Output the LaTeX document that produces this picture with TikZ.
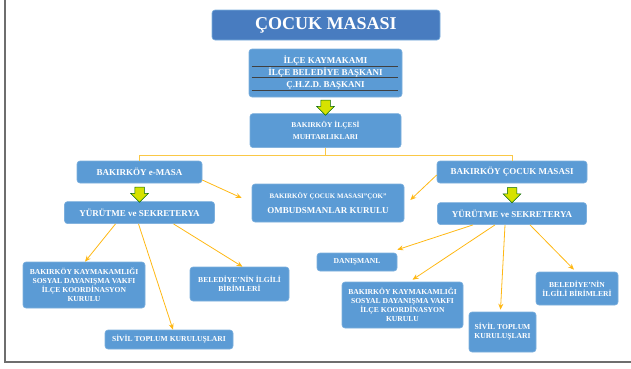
\documentclass[tikz,border=0pt]{standalone}
\usepackage{fontspec}
\setmainfont{Liberation Serif}
\usetikzlibrary{positioning,calc,arrows.meta,shapes.arrows}
\definecolor{boxblue}{RGB}{91,155,213}
\definecolor{titleblue}{RGB}{72,124,192}
\definecolor{linkorange}{RGB}{255,184,20}
\definecolor{hubyellow}{RGB}{250,200,70}
\definecolor{arrowyellow}{RGB}{214,226,0}
\definecolor{framegray}{RGB}{110,110,110}

\begin{document}
\begin{tikzpicture}[x=1pt, y=-1pt,
    box/.style={rectangle, rounded corners=3pt, fill=boxblue, draw=boxblue!80!white,
                line width=0.6pt, text=white, align=center, inner sep=1pt,
                font=\bfseries\fontsize{9}{11}\selectfont},
    smallbox/.style={box, font=\bfseries\fontsize{7.6}{9}\selectfont},
    arr/.style={-{Stealth[length=6pt,width=5pt]}, linkorange, line width=0.8pt},
    hub/.style={hubyellow, line width=0.8pt},
    rowline/.style={draw=black!75, line width=0.7pt},
    dnarrow/.style={single arrow, shape border rotate=270, fill=arrowyellow,
                    draw=black!60!green, line width=0.5pt, minimum height=15pt,
                    inner sep=4.5pt, single arrow head extend=4pt},
  ]
    \useasboundingbox (0,0) rectangle (631,368);
    \draw[framegray, line width=1.2pt] (5,0) -- (5,362) -- (631,362);

    % Top
    \node[box, fill=titleblue, minimum width=228pt, minimum height=30pt,
          font=\bfseries\fontsize{18}{20}\selectfont] (title) at (326,25) {ÇOCUK MASASI};
    \node[box, minimum width=153pt, minimum height=48pt,
          font=\bfseries\fontsize{9}{12}\selectfont] (chiefs) at (325.5,73)
          {İLÇE KAYMAKAMI\\İLÇE BELEDİYE BAŞKANI\\Ç.H.Z.D. BAŞKANI};
    \foreach \dy in {18,29,42}
      \draw[rowline] ([xshift=3pt,yshift=-\dy pt]chiefs.north west) -- ([xshift=-4pt,yshift=-\dy pt]chiefs.north east);
    \node[box, below=16pt of chiefs, minimum width=151pt, minimum height=34pt,
          font=\bfseries\fontsize{7.4}{12}\selectfont] (muhtar) {BAKIRKÖY İLÇESİ\\MUHTARLIKLARI};

    % Left column
    \node[box, minimum width=125pt, minimum height=22pt] (emasa) at (139.5,172) {BAKIRKÖY e-MASA};
    \node[box, below=18pt of emasa, minimum width=150pt, minimum height=22pt] (yurutmeL) {YÜRÜTME ve SEKRETERYA};

    % Right column
    \node[box, minimum width=150pt, minimum height=22pt] (cmasa) at (512,172) {BAKIRKÖY ÇOCUK MASASI};
    \node[box, below=19pt of cmasa, minimum width=149pt, minimum height=22pt] (yurutmeR) {YÜRÜTME ve SEKRETERYA};

    % Middle
    \node[box, minimum width=152pt, minimum height=38pt,
          font=\bfseries\fontsize{9}{15}\selectfont] (ombuds) at (328,203)
          {{\fontsize{6.9}{8}\selectfont BAKIRKÖY ÇOCUK MASASI"ÇOK"}\\OMBUDSMANLAR KURULU};

    % Lower boxes
    \node[smallbox, minimum width=122pt, minimum height=46pt] (vakifL) at (84,285)
          {BAKIRKÖY KAYMAKAMLIĞI\\SOSYAL DAYANIŞMA VAKFI\\İLÇE KOORDİNASYON\\KURULU};
    \node[smallbox, minimum width=99pt, minimum height=34pt] (belediyeL) at (239.5,284)
          {BELEDİYE’NİN İLGİLİ\\BİRİMLERİ};
    \node[smallbox, minimum width=128pt, minimum height=19pt] (sivilL) at (169,339.5)
          {SİVİL TOPLUM KURULUŞLARI};
    \node[smallbox, minimum width=80pt, minimum height=18pt] (danisman) at (357,262) {DANIŞMANL};
    \node[smallbox, minimum width=121pt, minimum height=46pt] (vakifR) at (402.5,305)
          {BAKIRKÖY KAYMAKAMLIĞI\\SOSYAL DAYANIŞMA VAKFI\\İLÇE KOORDİNASYON\\KURULU};
    \node[smallbox, minimum width=67pt, minimum height=40pt] (sivilR) at (502.5,332)
          {SİVİL TOPLUM\\KURULUŞLARI};
    \node[smallbox, minimum width=82pt, minimum height=33pt] (belediyeR) at (577,288.5)
          {BELEDİYE’NİN\\İLGİLİ BİRİMLERİ};

    % Block arrows
    \node[dnarrow] (down1) at ($(chiefs.south)!0.5!(muhtar.north)$) {};
    \node[dnarrow] (down2) at ($(emasa.south)!0.5!(yurutmeL.north)$) {};
    \node[dnarrow] (down3) at ($(cmasa.south)!0.5!(yurutmeR.north)$) {};

    % Connectors
    \draw[hub] (muhtar.south) -- ++(0,7) coordinate (hub);
    \draw[hub] (emasa.north) |- (hub) -| (cmasa.north);
    \draw[arr] ([yshift=-8pt]emasa.east) -- ([xshift=-10pt,yshift=5pt]ombuds.west);
    \draw[arr] ([yshift=-3pt]cmasa.west) -- ([xshift=6pt,yshift=3pt]ombuds.east);
    \draw[arr] ([xshift=-24pt]yurutmeL.south) -- ([xshift=1pt]vakifL.north);
    \draw[arr] ([xshift=-1pt]yurutmeL.south) -- ([xshift=4pt]sivilL.north);
    \draw[arr] ([xshift=34pt]yurutmeL.south) -- ([xshift=3pt]belediyeL.north);
    \draw[arr] ([xshift=-39pt]yurutmeR.south) -- ([yshift=3pt]danisman.north east);
    \draw[arr] ([xshift=-17pt]yurutmeR.south) -- ([xshift=10pt,yshift=2pt]vakifR.north);
    \draw[arr] ([xshift=-7pt]yurutmeR.south) -- ([xshift=-2pt,yshift=2pt]sivilR.north);
    \draw[arr] ([xshift=18pt]yurutmeR.south) -- ([xshift=-3pt,yshift=2pt]belediyeR.north);
  \end{tikzpicture}
\end{document}
